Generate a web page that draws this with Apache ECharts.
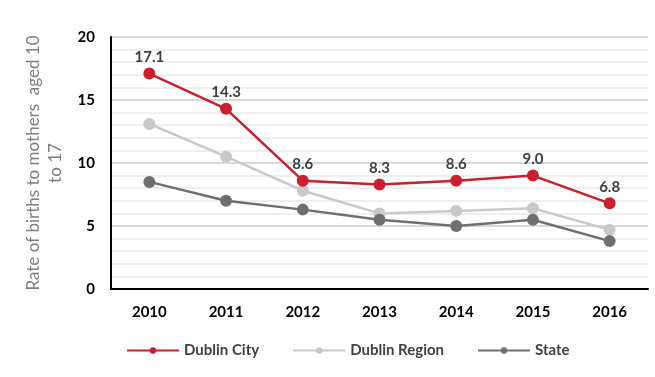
<!DOCTYPE html>
<html><head><meta charset="utf-8">
<script src="https://cdn.jsdelivr.net/npm/echarts@6/dist/echarts.min.js"></script>
<style>html,body{margin:0;padding:0;background:#fff}#c{width:655px;height:377px}</style>
</head><body><div id="c"></div>
<script>
const years = ['2010','2011','2012','2013','2014','2015','2016'];
const dublinCity = [17.1, 14.3, 8.6, 8.3, 8.6, 9.0, 6.8];
const dublinRegion = [13.1, 10.5, 7.8, 6.0, 6.2, 6.4, 4.7];
const state = [8.5, 7.0, 6.3, 5.5, 5.0, 5.5, 3.8];
const yTicks = [0, 5, 10, 15, 20];

const chart = echarts.init(document.getElementById('c'));
const FONT = 'Lato';
function ser(name, data, color, label) {
  return {
    name, type: 'line', data,
    symbol: 'circle', symbolSize: 12,
    lineStyle: {color, width: 2.5},
    itemStyle: {color},
    z: label ? 5 : 3,
    label: label ? {show: true, position: 'top', distance: 3, formatter: p => p.value.toFixed(1),
      color: '#404040', fontFamily: FONT, fontWeight: 'bold', fontSize: 15} : {show: false}
  };
}
chart.setOption({
  animation: false,
  grid: {left: 111, right: 7, top: 37, bottom: 88},
  legend: {
    bottom: 14, left: 121, itemGap: 33, itemWidth: 52, itemHeight: 8,
    textStyle: {fontFamily: FONT, fontWeight: 'bold', fontSize: 15, color: '#404040'},
    data: ['Dublin City', 'Dublin Region', 'State']
  },
  xAxis: {
    type: 'category', data: years, boundaryGap: true,
    axisLine: {lineStyle: {color: '#000', width: 2}},
    axisTick: {show: false},
    axisLabel: {fontFamily: FONT, fontWeight: 'bold', fontSize: 15, color: '#000', margin: 16}
  },
  yAxis: {
    type: 'value', min: yTicks[0], max: yTicks[yTicks.length - 1], interval: 5,
    name: 'Rate of births to mothers  aged 10\nto 17', nameLocation: 'middle', nameGap: 43,
    nameTextStyle: {fontFamily: FONT, fontSize: 17, color: '#7f7f7f', lineHeight: 22, align: 'center'},
    axisLine: {show: true, lineStyle: {color: '#000', width: 2}},
    axisTick: {show: false},
    axisLabel: {fontFamily: FONT, fontWeight: 'bold', fontSize: 15, color: '#000', margin: 16},
    splitLine: {lineStyle: {color: '#d9d9d9', width: 2}},
    minorTick: {show: false, splitNumber: 5},
    minorSplitLine: {show: true, lineStyle: {color: '#efefef', width: 2}}
  },
  series: [
    ser('Dublin City', dublinCity, '#c8202f', true),
    ser('Dublin Region', dublinRegion, '#c9c9c9', false),
    ser('State', state, '#6f6f6f', false)
  ]
});
</script></body></html>
